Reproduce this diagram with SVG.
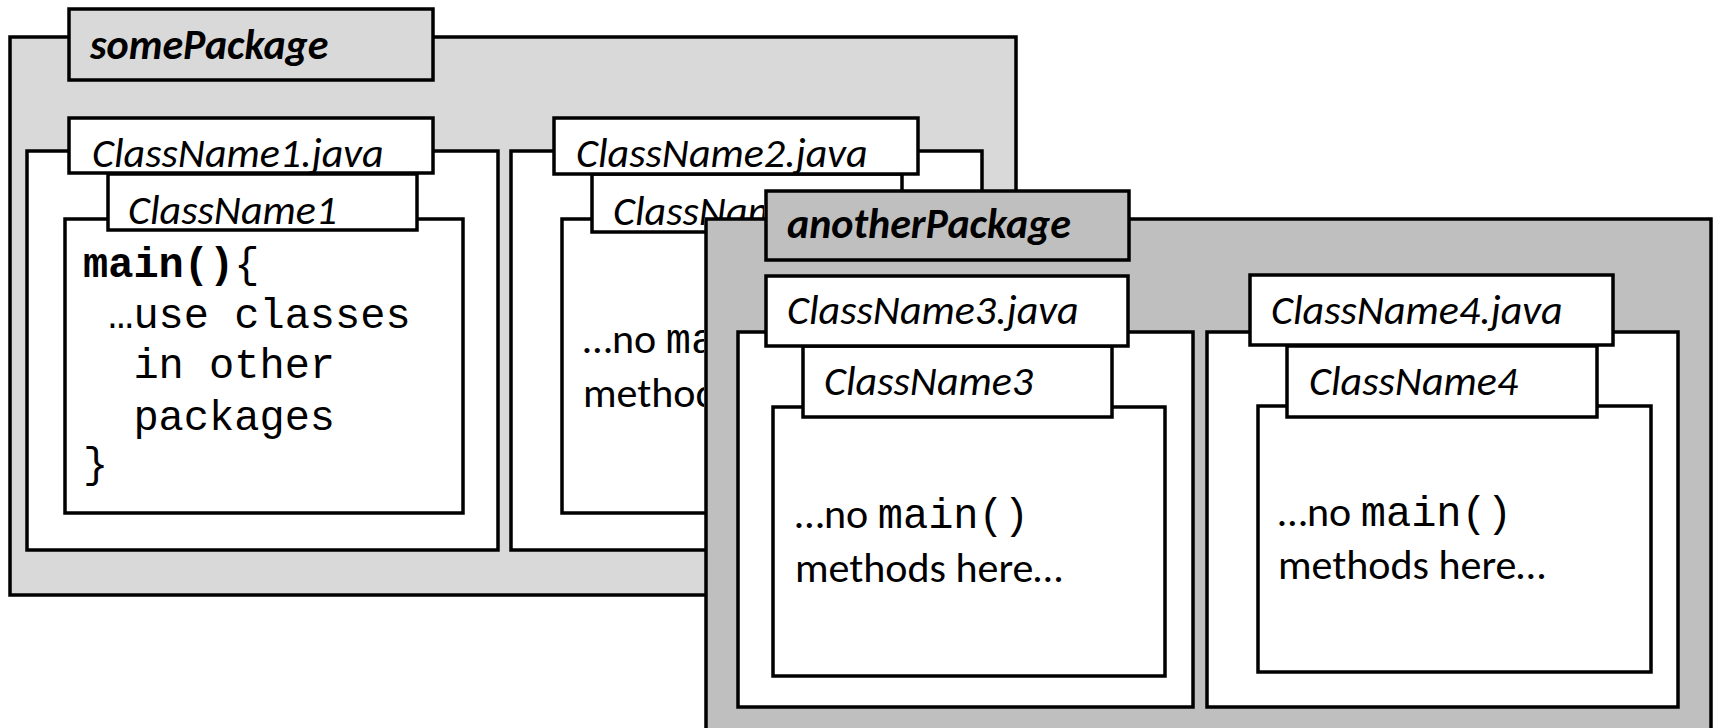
<svg xmlns="http://www.w3.org/2000/svg" width="1713" height="728" viewBox="0 0 1713 728">
<style>
  rect { stroke: #000; stroke-width: 3.5; }
  .pkg1 { fill: #d9d9d9; }
  .pkg2 { fill: #bfbfbf; }
  .w { fill: #ffffff; }
  text { fill: #000; }
  .lbl { font-family: Carlito, "Open Sans", "Noto Sans", sans-serif; font-size: 42px; font-style: italic; }
  .pk { font-family: Carlito, "Open Sans", "Noto Sans", sans-serif; font-size: 42px; font-style: italic; font-weight: bold; }
  .sans { font-family: Carlito, "Open Sans", "Noto Sans", sans-serif; font-size: 42px; }
  .mono { font-family: "Courier New", "Nimbus Mono PS", "Nimbus Mono L", FreeMono, "Liberation Mono", monospace; font-size: 42px; }
  .b { font-weight: bold; }
</style>
<defs>
  <clipPath id="hide2">
    <path d="M500 100 H764 V218 H704 V600 H500 Z"/>
  </clipPath>
</defs>

<g id="somePackage">
  <rect class="pkg1" x="10" y="37" width="1006" height="558"/>
  <rect class="pkg1" x="69" y="9" width="364" height="71"/>
  <text class="pk" x="90" y="59">somePackage</text>
</g>

<g id="ClassName1.java">
  <rect class="w" x="27" y="151" width="471" height="399"/>
  <rect class="w" x="65" y="219" width="398" height="294"/>
  <g id="ClassName1">
    <rect class="w" x="108" y="174" width="309" height="56"/>
    <text class="lbl" x="128" y="224">ClassName1</text>
    <text class="mono" xml:space="preserve" x="83" y="277"><tspan class="b">main()</tspan>{</text>
    <text class="mono" xml:space="preserve" x="83" y="328"> …use classes</text>
    <text class="mono" xml:space="preserve" x="83" y="378">  in other</text>
    <text class="mono" xml:space="preserve" x="83" y="430">  packages</text>
    <text class="mono" xml:space="preserve" x="83" y="477">}</text>
  </g>
  <rect class="w" x="69" y="118" width="364" height="55"/>
  <text class="lbl" x="92" y="167">ClassName1.java</text>
</g>

<g id="ClassName2.java">
  <rect class="w" x="511" y="151" width="471" height="399"/>
  <rect class="w" x="562" y="219" width="390" height="294"/>
  <g id="ClassName2">
    <rect class="w" x="592" y="174" width="310" height="58"/>
    <g clip-path="url(#hide2)">
      <text class="lbl" x="613" y="225">ClassName2</text>
      <text x="583" y="353"><tspan class="sans">…no </tspan><tspan class="mono">main()</tspan></text>
      <text class="sans" x="583" y="407">methods here…</text>
    </g>
  </g>
  <rect class="w" x="554" y="118" width="364" height="56"/>
  <text class="lbl" x="576" y="167">ClassName2.java</text>
</g>

<g id="anotherPackage">
  <rect class="pkg2" x="706" y="219" width="1005" height="560"/>
  <rect class="pkg2" x="766" y="191" width="363" height="69"/>
  <text class="pk" x="787" y="238">anotherPackage</text>
</g>

<g id="ClassName3.java">
  <rect class="w" x="738" y="332" width="455" height="375"/>
  <rect class="w" x="773" y="407" width="392" height="269"/>
  <g id="ClassName3">
    <rect class="w" x="803" y="346" width="309" height="71"/>
    <text class="lbl" x="824" y="395">ClassName3</text>
    <text x="795" y="528"><tspan class="sans">…no </tspan><tspan class="mono">main()</tspan></text>
    <text class="sans" x="795" y="582">methods here…</text>
  </g>
  <rect class="w" x="766" y="276" width="362" height="70"/>
  <text class="lbl" x="787" y="324">ClassName3.java</text>
</g>

<g id="ClassName4.java">
  <rect class="w" x="1207" y="332" width="471" height="375"/>
  <rect class="w" x="1258" y="406" width="393" height="266"/>
  <g id="ClassName4">
    <rect class="w" x="1287" y="346" width="310" height="71"/>
    <text class="lbl" x="1309" y="395">ClassName4</text>
    <text x="1278" y="526"><tspan class="sans">…no </tspan><tspan class="mono">main()</tspan></text>
    <text class="sans" x="1278" y="579">methods here…</text>
  </g>
  <rect class="w" x="1250" y="275" width="363" height="70"/>
  <text class="lbl" x="1271" y="324">ClassName4.java</text>
</g>
</svg>
